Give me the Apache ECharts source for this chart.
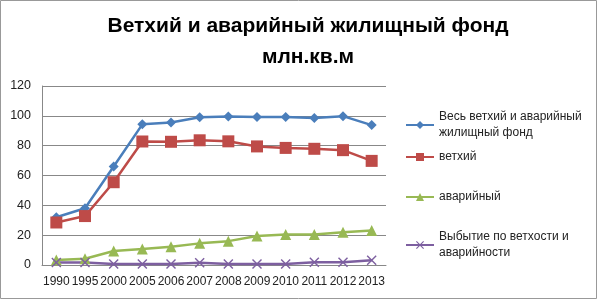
<!DOCTYPE html>
<html><head><meta charset="utf-8">
<script src="https://cdn.jsdelivr.net/npm/echarts@6/dist/echarts.min.js"></script>
<style>html,body{margin:0;padding:0;background:#fff}#c{width:597px;height:300px}</style>
</head><body><div id="c"></div>
<script>
const years = ['1990','1995','2000','2005','2006','2007','2008','2009','2010','2011','2012','2013'];
const total = [32, 38, 66, 94.3, 95.6, 99, 99.5, 99.3, 99.3, 98.6, 99.8, 93.8];
const dilapidated = [28.5, 32.8, 55.5, 82.8, 82.6, 83.6, 82.9, 79.5, 78.5, 77.9, 77, 69.8];
const emergency = [3.3, 4.2, 9.4, 10.8, 12.3, 14.5, 16, 19.4, 20.5, 20.5, 21.9, 23.2];
const retired = [1.6, 1.6, 0.6, 0.6, 0.6, 1.5, 0.6, 0.6, 0.6, 1.8, 1.8, 3.2];
const yTicks = [0, 20, 40, 60, 80, 100, 120];
const names = ['Весь ветхий и аварийный\nжилищный фонд', 'ветхий', 'аварийный', 'Выбытие по ветхости и\nаварийности'];
const colors = ['#4a7ebb', '#be4b48', '#98b954', '#7d5fa0'];
const xPath = 'path://M1,0L5,4L9,0L10,1L6,5L10,9L9,10L5,6L1,10L0,9L4,5L0,1Z';
const chart = echarts.init(document.getElementById('c'));
const font = 'Liberation Sans, Arial, sans-serif';
function lg(i, top) {
  return {data: [names[i]], left: 405, top: top, padding: 0, itemWidth: 28, itemHeight: 10, itemGap: 0,
    textStyle: {fontFamily: font, fontSize: 12, color: '#222', lineHeight: 16}, selectedMode: false};
}
chart.setOption({
  animation: false,
  color: colors,
  title: [
    {text: 'Ветхий и аварийный жилищный фонд', left: 303, top: 11, textAlign: 'center',
     textStyle: {fontFamily: font, fontWeight: 'bold', fontSize: 21, color: '#000'}},
    {text: 'млн.кв.м', left: 303, top: 42, textAlign: 'center',
     textStyle: {fontFamily: font, fontWeight: 'bold', fontSize: 21, color: '#000'}}
  ],
  graphic: [{type: 'rect', shape: {x: 0.5, y: 0.5, width: 596, height: 298}, style: {fill: 'none', stroke: '#999', lineWidth: 1}}],
  legend: [lg(0, 109), lg(1, 149), lg(2, 189), lg(3, 229)],
  grid: {left: 42, right: 211, top: 86, bottom: 35},
  xAxis: {type: 'category', data: years, boundaryGap: true,
    axisLine: {lineStyle: {color: '#888'}}, axisTick: {show: false},
    axisLabel: {color: '#222', fontFamily: font, fontSize: 12, interval: 0, margin: 11}},
  yAxis: {type: 'value', min: 0, max: 120, interval: 20,
    axisLine: {show: true, lineStyle: {color: '#888'}}, axisTick: {show: false},
    splitLine: {lineStyle: {color: '#888'}},
    axisLabel: {color: '#222', fontFamily: font, fontSize: 12.5, margin: 11,
      formatter: v => yTicks.includes(v) ? String(v) : ''}},
  series: [
    {name: names[0], type: 'line', data: total, symbol: 'diamond', symbolSize: 10, lineStyle: {width: 2.5}},
    {name: names[1], type: 'line', data: dilapidated, symbol: 'rect', symbolSize: 12, lineStyle: {width: 2.5}},
    {name: names[2], type: 'line', data: emergency, symbol: 'triangle', symbolSize: 11, lineStyle: {width: 2.5}},
    {name: names[3], type: 'line', data: retired, symbol: xPath, symbolSize: 10, lineStyle: {width: 2.5}}
  ]
});
</script></body></html>
